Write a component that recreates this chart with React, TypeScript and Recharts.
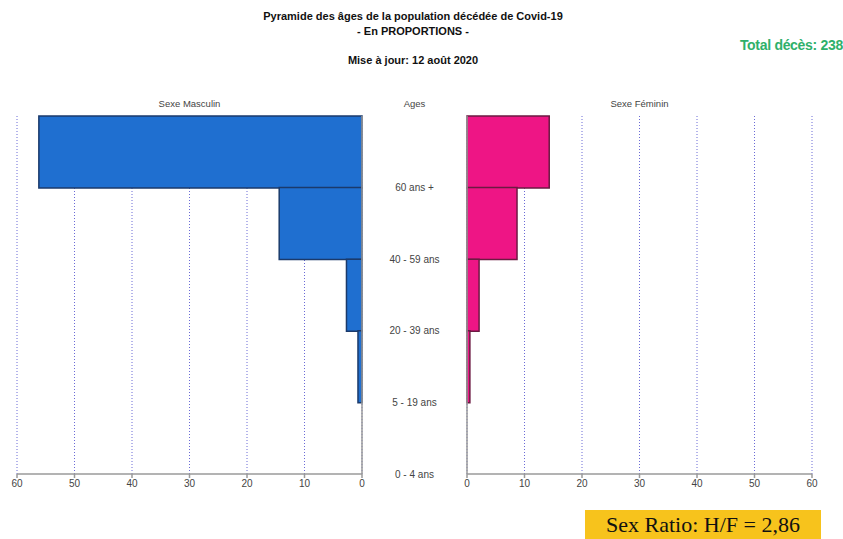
import React from "react";
import { BarChart, Bar, XAxis, YAxis, CartesianGrid } from "recharts";

// Pyramide des âges, décès Covid-19 (en %)
const ages = ["60 ans +", "40 - 59 ans", "20 - 39 ans", "5 - 19 ans", "0 - 4 ans"];
const hommes = [56.2, 14.4, 2.7, 0.7, 0];
const femmes = [14.3, 8.7, 2.1, 0.5, 0];
const ticks = [0, 10, 20, 30, 40, 50, 60];

const data = ages.map((age, i) => ({ age, hommes: hommes[i], femmes: femmes[i] }));

const CHART_TOP = 100;
const CHART_H = 400;
const MARGIN_TOP = 16;
const XAXIS_H = 26;
const PLOT_W = 345;
const LEFT_M = 17;
const MID_W = 105;
const PAD = 12;
const BAND = (CHART_H - MARGIN_TOP - XAXIS_H) / ages.length;
const RIGHT_X = LEFT_M + PLOT_W + MID_W;

const FONT = "'Liberation Sans', Arial, sans-serif";
const GRID = "#6a6ad6";
const AXIS = "#9a9a9a";

const AgeTick = (props: any) => {
    const { y, payload } = props;
    return (
        <text
            x={LEFT_M + PLOT_W + MID_W / 2}
            y={y + BAND / 2}
            textAnchor="middle"
            dominantBaseline="central"
            fontSize={10}
            fontFamily={FONT}
            fill="#444"
        >
            {payload.value}
        </text>
    );
};

const tickStyle = { fontSize: 10, fill: "#444", fontFamily: FONT };

const App: React.FC = () => {
    return (
        <div
            style={{
                position: "absolute",
                left: 0,
                top: 0,
                width: 843,
                height: 539,
                background: "#fff",
                fontFamily: FONT,
                overflow: "hidden",
            }}
        >
            <div style={{ position: "absolute", left: 0, width: 826, top: 9, textAlign: "center", fontSize: 11, fontWeight: "bold", color: "#111", lineHeight: "15px" }}>
                Pyramide des âges de la population décédée de Covid-19
                <br />- En PROPORTIONS -
            </div>
            <div style={{ position: "absolute", left: 0, width: 826, top: 54, textAlign: "center", fontSize: 11, fontWeight: "bold", color: "#111" }}>
                Mise à jour: 12 août 2020
            </div>
            <div style={{ position: "absolute", right: 0, top: 37, fontSize: 14, fontWeight: "bold", color: "#2fb06a", letterSpacing: -0.3 }}>
                Total décès: 238
            </div>

            <div style={{ position: "absolute", left: LEFT_M, width: PLOT_W, top: 98, textAlign: "center", fontSize: 9.5, color: "#444" }}>
                Sexe Masculin
            </div>
            <div style={{ position: "absolute", left: LEFT_M + PLOT_W, width: MID_W, top: 98, textAlign: "center", fontSize: 9.5, color: "#444" }}>
                Ages
            </div>
            <div style={{ position: "absolute", left: RIGHT_X, width: PLOT_W, top: 98, textAlign: "center", fontSize: 9.5, color: "#444" }}>
                Sexe Féminin
            </div>

            <div style={{ position: "absolute", left: 0, top: CHART_TOP }}>
                <BarChart
                    width={RIGHT_X}
                    height={CHART_H}
                    data={data}
                    layout="vertical"
                    barCategoryGap={0}
                    margin={{ top: MARGIN_TOP, right: 0, bottom: 0, left: LEFT_M }}
                >
                    <CartesianGrid horizontal={false} vertical stroke={GRID} strokeDasharray="1 2" />
                    <XAxis
                        type="number"
                        domain={[0, 60]}
                        ticks={ticks}
                        reversed
                        height={XAXIS_H}
                        stroke={AXIS}
                        strokeWidth={1.5}
                        tickSize={4}
                        tick={tickStyle}
                    />
                    <YAxis
                        type="category"
                        dataKey="age"
                        orientation="right"
                        width={MID_W}
                        stroke={AXIS}
                        strokeWidth={1.5}
                        tickLine={false}
                        tick={<AgeTick />}
                    />
                    <Bar dataKey="hommes" fill="#1f6fd0" stroke="#1b3a6b" strokeWidth={1.5} isAnimationActive={false} />
                </BarChart>
            </div>

            <div style={{ position: "absolute", left: RIGHT_X - PAD, top: CHART_TOP }}>
                <BarChart
                    width={843 - RIGHT_X + PAD}
                    height={CHART_H}
                    data={data}
                    layout="vertical"
                    barCategoryGap={0}
                    margin={{ top: MARGIN_TOP, right: 843 - RIGHT_X - PLOT_W, bottom: 0, left: PAD - 1 }}
                >
                    <CartesianGrid horizontal={false} vertical stroke={GRID} strokeDasharray="1 2" />
                    <XAxis
                        type="number"
                        domain={[0, 60]}
                        ticks={ticks}
                        height={XAXIS_H}
                        stroke={AXIS}
                        strokeWidth={1.5}
                        tickSize={4}
                        tick={tickStyle}
                    />
                    <YAxis type="category" dataKey="age" width={1} stroke={AXIS} strokeWidth={1.5} tickLine={false} tick={false} />
                    <Bar dataKey="femmes" fill="#ee1585" stroke="#6b1a42" strokeWidth={1.5} isAnimationActive={false} />
                </BarChart>
            </div>

            <div
                style={{
                    position: "absolute",
                    left: 585,
                    top: 510,
                    width: 236,
                    height: 29,
                    background: "#f7c31c",
                    fontFamily: "'Liberation Serif', 'Times New Roman', serif",
                    fontSize: 22,
                    lineHeight: "29px",
                    textAlign: "center",
                    color: "#111",
                }}
            >
                Sex Ratio: H/F = 2,86
            </div>
        </div>
    );
};

export default App;
